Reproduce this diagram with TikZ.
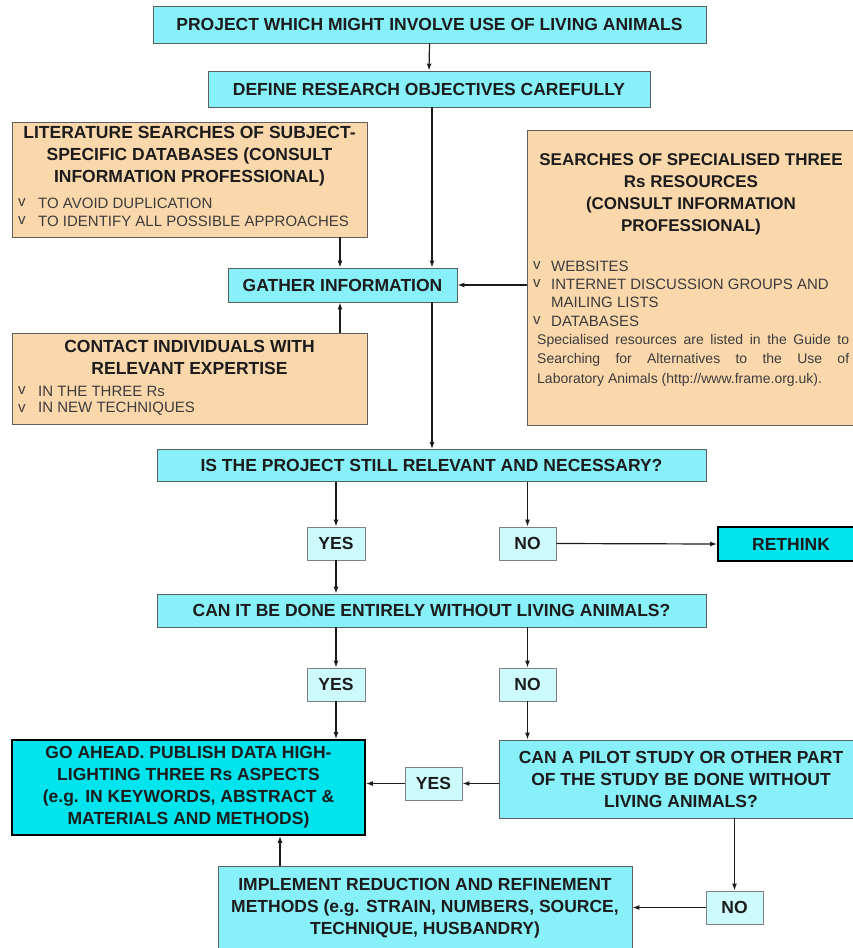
\documentclass[tikz,border=0pt]{standalone}
\usepackage{fontspec}
\setmainfont{Liberation Sans}
\usetikzlibrary{arrows.meta}
\definecolor{cyanL}{RGB}{135,240,248}
\definecolor{cyanD}{RGB}{0,228,238}
\definecolor{pale}{RGB}{205,250,252}
\definecolor{tanF}{RGB}{250,216,172}
\definecolor{edgeC}{RGB}{95,95,95}
\definecolor{ink}{RGB}{28,28,28}
\definecolor{grayink}{RGB}{60,60,60}
\begin{document}
\begin{tikzpicture}[x=1pt,y=-1pt,
  box/.style={draw=edgeC, line width=0.9pt, fill=cyanL, inner sep=0pt, align=center,
    font=\bfseries\fontsize{17.5}{22}\selectfont, text=ink},
  yn/.style={box, fill=pale, draw=edgeC!80},
  hot/.style={box, fill=cyanD, draw=black, line width=1.8pt},
  tanbox/.style={draw=edgeC, line width=0.9pt, fill=tanF, inner sep=0pt},
  head/.style={inner sep=0pt, align=center, font=\bfseries\fontsize{17.5}{22}\selectfont, text=ink},
  bul/.style={inner sep=0pt, anchor=west, font=\fontsize{15}{18}\selectfont, text=grayink},
  arr/.style={-{Latex[length=7pt,width=5pt]}, line width=1.2pt, draw=ink}
]
\useasboundingbox (0,0) rectangle (853,948);
\clip (0,0) rectangle (853,948);

% main boxes
\node[box, minimum width=553pt, minimum height=37pt] (top) at (429.5,24.5) {PROJECT WHICH MIGHT INVOLVE USE OF LIVING ANIMALS};
\node[box, minimum width=442pt, minimum height=36pt] (def) at (429,89) {DEFINE RESEARCH OBJECTIVES CAREFULLY};

% literature box
\node[tanbox, minimum width=355pt, minimum height=115pt] (lit) at (189.5,179.5) {};
\node[head] (lith) at (189.5,156) {LITERATURE SEARCHES OF SUBJECT-\\SPECIFIC DATABASES (CONSULT\\INFORMATION PROFESSIONAL)};
\node[bul] (litv1) at (18,203) {v};
\node[bul] (litb1) at (38,203) {TO AVOID DUPLICATION};
\node[bul] (litv2) at (18,221) {v};
\node[bul] (litb2) at (38,221) {TO IDENTIFY ALL POSSIBLE APPROACHES};

% specialised box
\node[tanbox, minimum width=346pt, minimum height=295pt] (spec) at (700,277.5) {};
\node[head, font=\bfseries\fontsize{17}{22}\selectfont] (spech) at (691,194) {SEARCHES OF SPECIALISED THREE\\Rs RESOURCES\\(CONSULT INFORMATION\\PROFESSIONAL)};
\node[bul] (specv1) at (533,266) {v};
\node[bul] (specb1) at (551,266) {WEBSITES};
\node[bul] (specv2) at (533,284) {v};
\node[bul] (specb2) at (551,284) {INTERNET DISCUSSION GROUPS AND};
\node[bul] (specb2b) at (551,302) {MAILING LISTS};
\node[bul] (specv3) at (533,321) {v};
\node[bul] (specb3) at (551,321) {DATABASES};
\node[inner sep=0pt, anchor=north west, text width=312pt, align=justify,
  font=\fontsize{14}{19.5}\selectfont, text=grayink] (specbody) at (537,334)
  {Specialised resources are listed in the Guide to\linebreak Searching for Alternatives to the Use of\linebreak Laboratory Animals (http://www.frame.org.uk).};

% gather
\node[box, minimum width=229pt, minimum height=34pt] (gather) at (342.5,285) {GATHER INFORMATION};

% contact box
\node[tanbox, minimum width=355pt, minimum height=91pt] (contact) at (189.5,378.5) {};
\node[head] (conth) at (189.5,357.5) {CONTACT INDIVIDUALS WITH\\RELEVANT EXPERTISE};
\node[bul] (contv1) at (18,391) {v};
\node[bul] (contb1) at (38,391) {IN THE THREE Rs};
\node[bul] (contv2) at (18,409) {v};
\node[bul] (contb2) at (38,409) {IN NEW TECHNIQUES};

% decisions
\node[box, minimum width=549pt, minimum height=32pt] (q1) at (431.5,465.5) {IS THE PROJECT STILL RELEVANT AND NECESSARY?};
\node[yn, minimum width=58pt, minimum height=33pt] (yes1) at (336,543.5) {YES};
\node[yn, minimum width=57pt, minimum height=33pt] (no1) at (527.5,543.5) {NO};
\node[hot, minimum width=146pt, minimum height=34pt] (rethink) at (791,544) {RETHINK};

\node[box, minimum width=549pt, minimum height=33pt] (q2) at (431.5,610.5) {CAN IT BE DONE ENTIRELY WITHOUT LIVING ANIMALS?};
\node[yn, minimum width=58pt, minimum height=33pt] (yes2) at (336,684.5) {YES};
\node[yn, minimum width=57pt, minimum height=33pt] (no2) at (527.5,684.5) {NO};

\node[hot, minimum width=353pt, minimum height=95pt] (go) at (188.5,787.5) {GO AHEAD. PUBLISH DATA HIGH-\\LIGHTING THREE Rs ASPECTS\\(e.g. IN KEYWORDS, ABSTRACT \&\\MATERIALS AND METHODS)};
\node[yn, minimum width=57pt, minimum height=33pt] (yes3) at (433.5,783.5) {YES};
\node[box, minimum width=364pt, minimum height=78pt] (pilot) at (681,779) {CAN A PILOT STUDY OR OTHER PART\\OF THE STUDY BE DONE WITHOUT\\LIVING ANIMALS?};
\node[yn, minimum width=57pt, minimum height=33pt] (no3) at (734.5,907.5) {NO};
\node[box, minimum width=414pt, minimum height=84pt] (impl) at (425,908) {IMPLEMENT REDUCTION AND REFINEMENT\\METHODS (e.g. STRAIN, NUMBERS, SOURCE,\\TECHNIQUE, HUSBANDRY)};

% connectors
\draw[arr] (top.south) -- (def.north);
\draw[arr] (def.south -| 432,0) -- (gather.north -| 432,0);
\draw[arr] (lit.south -| 340,0) -- (gather.north -| 340,0);
\draw[arr] (contact.north -| 340,0) -- (gather.south -| 340,0);
\draw[arr] (spec.west |- gather.east) -- (gather.east);
\draw[arr] (gather.south -| 432,0) -- (q1.north -| 432,0);
\draw[arr] (q1.south -| yes1.north) -- (yes1.north);
\draw[arr] (q1.south -| no1.north) -- (no1.north);
\draw[arr] (no1.east) -- (rethink.west);
\draw[arr] (yes1.south) -- (q2.north -| yes1.south);
\draw[arr] (q2.south -| yes2.north) -- (yes2.north);
\draw[arr] (q2.south -| no2.north) -- (no2.north);
\draw[arr] (yes2.south) -- (go.north -| yes2.south);
\draw[arr] (no2.south) -- (pilot.north -| no2.south);
\draw[arr] (pilot.west |- yes3.east) -- (yes3.east);
\draw[arr] (yes3.west) -- (go.east |- yes3.west);
\draw[arr] (pilot.south -| no3.north) -- (no3.north);
\draw[arr] (no3.west) -- (impl.east |- no3.west);
\draw[arr] (impl.north -| 280,0) -- (go.south -| 280,0);
\end{tikzpicture}
\end{document}
